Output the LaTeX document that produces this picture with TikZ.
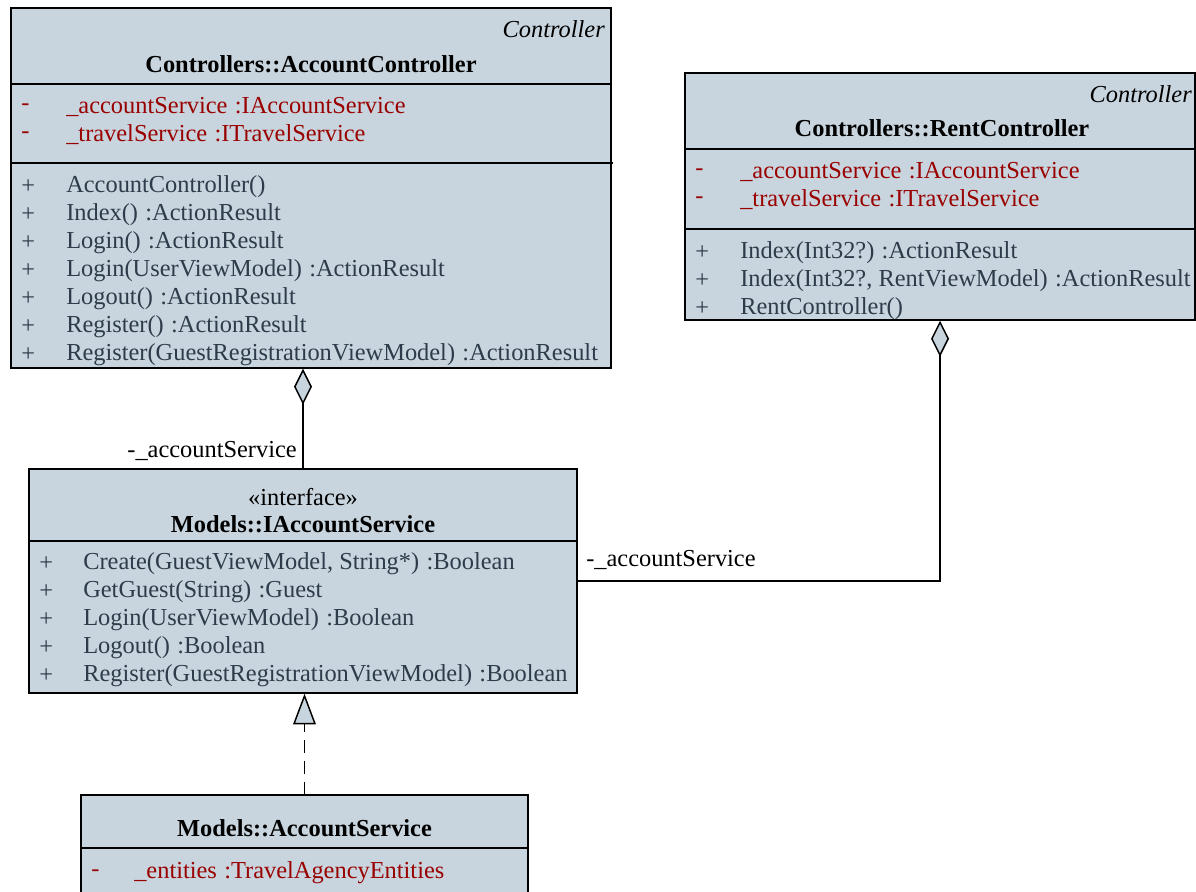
\documentclass[tikz,border=0pt]{standalone}
\usepackage{fontspec}
\setmainfont{Liberation Serif}
\usetikzlibrary{arrows.meta}
\definecolor{boxfill}{HTML}{C8D5DE}
\definecolor{attrcol}{HTML}{990000}
\definecolor{memcol}{HTML}{2E3B4A}
\newcommand\umlgap{\hspace{5.5pt}}
\begin{document}
\begin{tikzpicture}[x=0.75pt,y=-0.75pt,
  font=\fontsize{18.3}{21}\selectfont,
  cls/.style={draw, fill=boxfill, line width=1.1pt, inner sep=0pt},
  sep/.style={line width=1.1pt},
  attr/.style={anchor=west, inner sep=0pt, text=attrcol},
  meth/.style={anchor=west, inner sep=0pt, text=memcol},
  title/.style={inner sep=0pt, font=\fontsize{18.3}{21}\selectfont\bfseries},
  stereo/.style={anchor=east, inner sep=0pt, font=\fontsize{18.3}{21}\selectfont\itshape},
  lbl/.style={inner sep=0pt},
  conn/.style={line width=1.1pt},
  aggr/.style={conn, {Diamond[length=27pt,width=13.5pt,fill=boxfill,line width=1.1pt]}-},
  real/.style={conn, dash pattern=on 9.5pt off 6pt, -{Triangle[length=23pt,width=17pt,fill=boxfill,line width=1.1pt]}}
]
\useasboundingbox (0,0) rectangle (1196,892);
\clip (0,0) rectangle (1196,892);

% AccountController
\node[cls, minimum width=450pt, minimum height=270pt] (ac) at (311,188) {};
\draw[sep] (11,84) -- (611,84);
\draw[sep] (11,163) -- (613,163);
\node[stereo] (acst) at (605,29) {Controller};
\node[title] (acti) at (311,64) {Controllers::AccountController};
\foreach \y/\t [count=\i] in {107/{\_accountService\umlgap:IAccountService},135/{\_travelService\umlgap:ITravelService}}{
  \node[attr] (acav\i) at (21,\y) {-};
  \node[attr] (aca\i) at (66,\y) {\t};
}
\foreach \y/\t [count=\i] in {187/{AccountController()},215/{Index()\umlgap:ActionResult},243/{Login()\umlgap:ActionResult},271/{Login(UserViewModel)\umlgap:ActionResult},299/{Logout()\umlgap:ActionResult},327/{Register()\umlgap:ActionResult},355/{Register(GuestRegistrationViewModel)\umlgap:ActionResult}}{
  \node[meth] (acmv\i) at (21,\y) {+};
  \node[meth] (acm\i) at (66,\y) {\t};
}

% RentController
\node[cls, minimum width=382.5pt, minimum height=185.25pt] (rc) at (940,196.5) {};
\draw[sep] (685,149) -- (1195,149);
\draw[sep] (685,229) -- (1195,229);
\node[stereo] (rcst) at (1192,94) {Controller};
\node[title] (rcti) at (942,128) {Controllers::RentController};
\foreach \y/\t [count=\i] in {172/{\_accountService\umlgap:IAccountService},200/{\_travelService\umlgap:ITravelService}}{
  \node[attr] (rcav\i) at (695,\y) {-};
  \node[attr] (rca\i) at (740,\y) {\t};
}
\foreach \y/\t [count=\i] in {253/{Index(Int32?)\umlgap:ActionResult},281/{Index(Int32?, RentViewModel)\umlgap:ActionResult},309/{RentController()}}{
  \node[meth] (rcmv\i) at (695,\y) {+};
  \node[meth] (rcm\i) at (740,\y) {\t};
}

% IAccountService
\node[cls, minimum width=411pt, minimum height=168pt] (ias) at (303,581) {};
\draw[sep] (29,541) -- (577,541);
\node[lbl] (iasst) at (303,497) {«interface»};
\node[title] (iasti) at (303,524) {Models::IAccountService};
\foreach \y/\t [count=\i] in {564/{Create(GuestViewModel, String*)\umlgap:Boolean},592/{GetGuest(String)\umlgap:Guest},620/{Login(UserViewModel)\umlgap:Boolean},648/{Logout()\umlgap:Boolean},676/{Register(GuestRegistrationViewModel)\umlgap:Boolean}}{
  \node[meth] (iasmv\i) at (39,\y) {+};
  \node[meth] (iasm\i) at (83,\y) {\t};
}

% AccountService
\node[cls, minimum width=335.25pt, minimum height=90pt] (as) at (304.5,855) {};
\draw[sep] (81,848) -- (528,848);
\node[title] (asti) at (304.5,828) {Models::AccountService};
\node[attr] (asav) at (91,873) {-};
\node[attr] (asa) at (134,873) {\_entities\umlgap:TravelAgencyEntities};

% connectors
\draw[aggr] (ias.north |- ac.south) -- (ias.north);
\node[lbl, anchor=east] (l1) at (297,451) {-\_accountService};
\draw[aggr] (rc.south) |- (ias.east);
\node[lbl, anchor=west] (l2) at (586,560) {-\_accountService};
\draw[real] (as.north) -- (as.north |- ias.south);
\end{tikzpicture}
\end{document}
